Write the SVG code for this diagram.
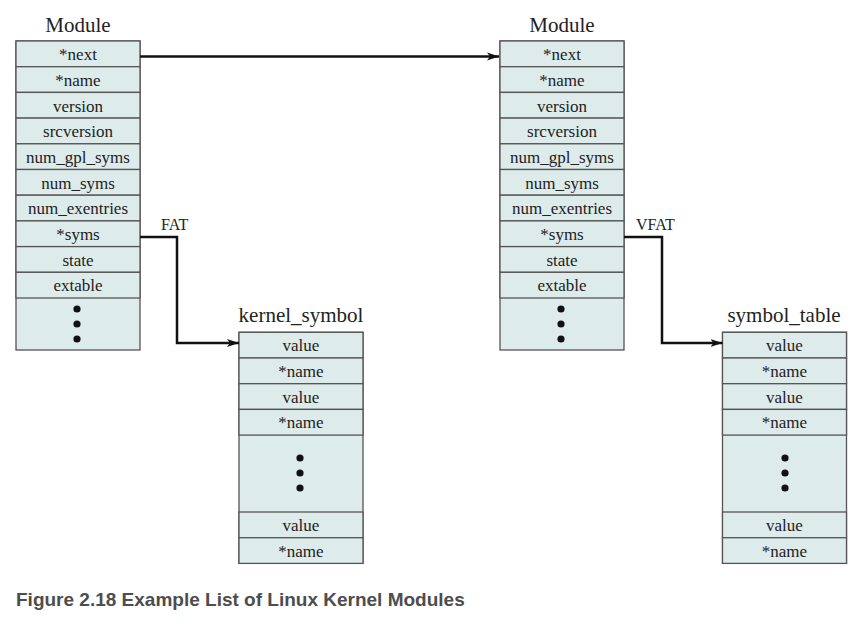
<svg xmlns="http://www.w3.org/2000/svg" width="867" height="624" viewBox="0 0 867 624">
<defs>
<style>
.cell{fill:#deebeb;stroke:#555;stroke-width:1.3}
.t{font-family:"Liberation Serif","Times New Roman",serif;font-size:17px;fill:#222;text-anchor:middle}
.title{font-family:"Liberation Serif","Times New Roman",serif;font-size:21px;fill:#222;text-anchor:middle}
.lbl{font-family:"Liberation Serif","Times New Roman",serif;font-size:16px;fill:#222}
.dot{fill:#111}
.conn{fill:none;stroke:#111;stroke-width:2.5}
.cap{font-family:"Liberation Sans",Arial,sans-serif;font-size:19px;font-weight:bold;fill:#4d4d4d}
</style>
<marker id="arr" markerUnits="userSpaceOnUse" markerWidth="14" markerHeight="10" refX="12" refY="5" orient="auto">
<path d="M0,1 L12,5 L0,9 L3,5 Z" fill="#111"/>
</marker>
</defs>
<rect width="867" height="624" fill="#fff"/>

<g id="module1">
<text class="title" x="78" y="32">Module</text>
<rect class="cell" x="16" y="41" width="124" height="309"/>
<rect class="cell" x="16" y="41" width="124" height="25.7"/>
<rect class="cell" x="16" y="66.7" width="124" height="25.7"/>
<rect class="cell" x="16" y="92.4" width="124" height="25.7"/>
<rect class="cell" x="16" y="118.1" width="124" height="25.7"/>
<rect class="cell" x="16" y="143.8" width="124" height="25.7"/>
<rect class="cell" x="16" y="169.5" width="124" height="25.7"/>
<rect class="cell" x="16" y="195.2" width="124" height="25.7"/>
<rect class="cell" x="16" y="220.9" width="124" height="25.7"/>
<rect class="cell" x="16" y="246.6" width="124" height="25.7"/>
<rect class="cell" x="16" y="272.3" width="124" height="25.7"/>
<text class="t" x="78" y="60">*next</text>
<text class="t" x="78" y="86">*name</text>
<text class="t" x="78" y="111.5">version</text>
<text class="t" x="78" y="137">srcversion</text>
<text class="t" x="78" y="163">num_gpl_syms</text>
<text class="t" x="78" y="188.5">num_syms</text>
<text class="t" x="78" y="214">num_exentries</text>
<text class="t" x="78" y="240">*syms</text>
<text class="t" x="78" y="265.5">state</text>
<text class="t" x="78" y="291">extable</text>
<circle class="dot" cx="77" cy="309" r="3.6"/>
<circle class="dot" cx="77" cy="324" r="3.6"/>
<circle class="dot" cx="77" cy="339" r="3.6"/>
</g>

<g id="module2">
<text class="title" x="562" y="32">Module</text>
<rect class="cell" x="500" y="41" width="124" height="309"/>
<rect class="cell" x="500" y="41" width="124" height="25.7"/>
<rect class="cell" x="500" y="66.7" width="124" height="25.7"/>
<rect class="cell" x="500" y="92.4" width="124" height="25.7"/>
<rect class="cell" x="500" y="118.1" width="124" height="25.7"/>
<rect class="cell" x="500" y="143.8" width="124" height="25.7"/>
<rect class="cell" x="500" y="169.5" width="124" height="25.7"/>
<rect class="cell" x="500" y="195.2" width="124" height="25.7"/>
<rect class="cell" x="500" y="220.9" width="124" height="25.7"/>
<rect class="cell" x="500" y="246.6" width="124" height="25.7"/>
<rect class="cell" x="500" y="272.3" width="124" height="25.7"/>
<text class="t" x="562" y="60">*next</text>
<text class="t" x="562" y="86">*name</text>
<text class="t" x="562" y="111.5">version</text>
<text class="t" x="562" y="137">srcversion</text>
<text class="t" x="562" y="163">num_gpl_syms</text>
<text class="t" x="562" y="188.5">num_syms</text>
<text class="t" x="562" y="214">num_exentries</text>
<text class="t" x="562" y="240">*syms</text>
<text class="t" x="562" y="265.5">state</text>
<text class="t" x="562" y="291">extable</text>
<circle class="dot" cx="561" cy="309" r="3.6"/>
<circle class="dot" cx="561" cy="324" r="3.6"/>
<circle class="dot" cx="561" cy="339" r="3.6"/>
</g>

<g id="kernel_symbol">
<text class="title" x="301" y="322">kernel_symbol</text>
<rect class="cell" x="239" y="332.3" width="124" height="231"/>
<rect class="cell" x="239" y="332.3" width="124" height="25.7"/>
<rect class="cell" x="239" y="358" width="124" height="25.7"/>
<rect class="cell" x="239" y="383.7" width="124" height="25.7"/>
<rect class="cell" x="239" y="409.4" width="124" height="25.7"/>
<rect class="cell" x="239" y="512" width="124" height="25.7"/>
<rect class="cell" x="239" y="537.7" width="124" height="25.7"/>
<text class="t" x="301" y="351">value</text>
<text class="t" x="301" y="377">*name</text>
<text class="t" x="301" y="402.5">value</text>
<text class="t" x="301" y="428">*name</text>
<circle class="dot" cx="300" cy="458" r="3.6"/>
<circle class="dot" cx="300" cy="473" r="3.6"/>
<circle class="dot" cx="300" cy="488" r="3.6"/>
<text class="t" x="301" y="531">value</text>
<text class="t" x="301" y="556.5">*name</text>
</g>

<g id="symbol_table">
<text class="title" x="784" y="322">symbol_table</text>
<rect class="cell" x="722.5" y="332.3" width="124" height="231"/>
<rect class="cell" x="722.5" y="332.3" width="124" height="25.7"/>
<rect class="cell" x="722.5" y="358" width="124" height="25.7"/>
<rect class="cell" x="722.5" y="383.7" width="124" height="25.7"/>
<rect class="cell" x="722.5" y="409.4" width="124" height="25.7"/>
<rect class="cell" x="722.5" y="512" width="124" height="25.7"/>
<rect class="cell" x="722.5" y="537.7" width="124" height="25.7"/>
<text class="t" x="784.5" y="351">value</text>
<text class="t" x="784.5" y="377">*name</text>
<text class="t" x="784.5" y="402.5">value</text>
<text class="t" x="784.5" y="428">*name</text>
<circle class="dot" cx="785" cy="458" r="3.6"/>
<circle class="dot" cx="785" cy="473" r="3.6"/>
<circle class="dot" cx="785" cy="488" r="3.6"/>
<text class="t" x="784.5" y="531">value</text>
<text class="t" x="784.5" y="556.5">*name</text>
</g>

<g id="connectors">
<path class="conn" d="M140,56.5 H499" marker-end="url(#arr)"/>
<path class="conn" d="M140,237 H177 V343 H239" marker-end="url(#arr)"/>
<path class="conn" d="M624,237 H662 V343 H722.5" marker-end="url(#arr)"/>
<text class="lbl" x="161" y="230">FAT</text>
<text class="lbl" x="636" y="230">VFAT</text>
</g>

<text class="cap" x="16" y="606">Figure 2.18 Example List of Linux Kernel Modules</text>
</svg>
